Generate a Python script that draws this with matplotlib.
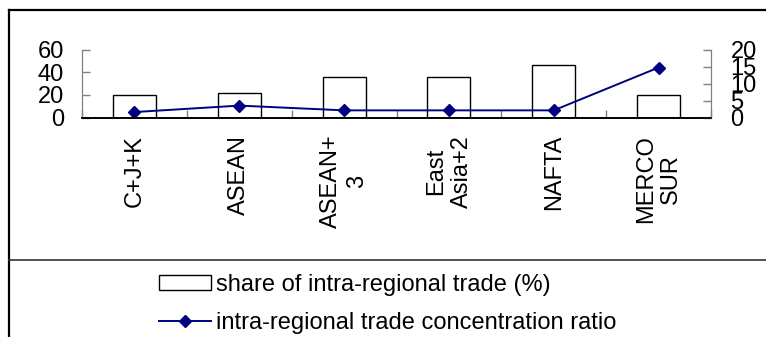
import matplotlib
matplotlib.use("Agg")
import matplotlib.pyplot as plt
from matplotlib.lines import Line2D
from matplotlib.patches import Rectangle
import numpy as np

plt.rcParams["font.family"] = ["Liberation Sans", "DejaVu Sans"]

# data
regions = ["C+J+K", "ASEAN", "ASEAN+\n3", "East\nAsia+2", "NAFTA", "MERCO\nSUR"]
share_pct = [20, 22, 36, 36, 46, 20]          # share of intra-regional trade (%)
conc_ratio = [1.6, 3.5, 2.1, 2.1, 2.1, 14.7]  # intra-regional trade concentration ratio

W, H = 766, 337
fig = plt.figure(figsize=(W / 100, H / 100), dpi=100)

# plot area in pixels: x 82..711, y 49.5..117.5
ax = fig.add_axes([82 / W, 1 - 117.5 / H, (711 - 82) / W, (117.5 - 49.5) / H])
x = np.arange(len(regions))

ax.bar(x, share_pct, width=0.41, facecolor="white", edgecolor="black", linewidth=1.0)
ax.set_xlim(-0.5, len(regions) - 0.5)
ax.set_ylim(0, 60)
ax.set_yticks([0, 20, 40, 60])

# tick marks between categories, labels under the categories
ax.set_xticks(np.arange(len(regions) + 1) - 0.5)
ax.set_xticklabels([])
ax.set_xticks(x, minor=True)
ax.set_xticklabels(regions, minor=True, rotation=90, fontsize=17, va="top", ha="center")
ax.tick_params(axis="x", which="major", direction="in", length=5.5, color="#808080", width=1)
ax.tick_params(axis="x", which="minor", length=0, pad=12.5)
ax.tick_params(axis="y", direction="in", length=6, color="#808080", width=1,
               labelsize=17, pad=13)

ax2 = ax.twinx()
ax2.plot(x, conc_ratio, color="#000080", linewidth=1.4, marker="D", markersize=6.5,
         markerfacecolor="#000080", markeredgecolor="#000080")
ax2.set_ylim(0, 20)
ax2.set_yticks([0, 5, 10, 15, 20])
ax2.tick_params(axis="y", direction="in", length=6, color="#808080", width=1,
                labelsize=17, pad=14)

for a in (ax, ax2):
    a.spines["top"].set_visible(False)
    a.spines["left"].set_color("#808080")
    a.spines["right"].set_color("#808080")
    a.spines["bottom"].set_color("black")
    a.spines["bottom"].set_linewidth(1.2)

# chart frame, cut off at the right and bottom like the screenshot
def px(xp, yp):
    return xp / W, 1 - yp / H

fig.add_artist(Line2D([8.5 / W, 1], [1 - 10 / H] * 2, color="black", linewidth=1.6))
fig.add_artist(Line2D([8.5 / W] * 2, [0, 1 - 10 / H], color="black", linewidth=1.6))
fig.add_artist(Line2D([8.5 / W, 1], [1 - 260 / H] * 2, color="#333333", linewidth=1.2))

# legend
handles = [Rectangle((0, 0), 1, 1, facecolor="white", edgecolor="black", linewidth=1.0),
           Line2D([], [], color="#000080", linewidth=1.4, marker="D", markersize=6.5)]
labels = ["share of intra-regional trade (%)", "intra-regional trade concentration ratio"]
fig.legend(handles, labels, loc="upper left", bbox_to_anchor=px(159, 274),
           frameon=False, fontsize=17, handlelength=2.2, handleheight=0.6,
           handletextpad=0.22, labelspacing=0.66, borderpad=0, borderaxespad=0,
           numpoints=1)

fig.savefig("out.png", dpi=100)
